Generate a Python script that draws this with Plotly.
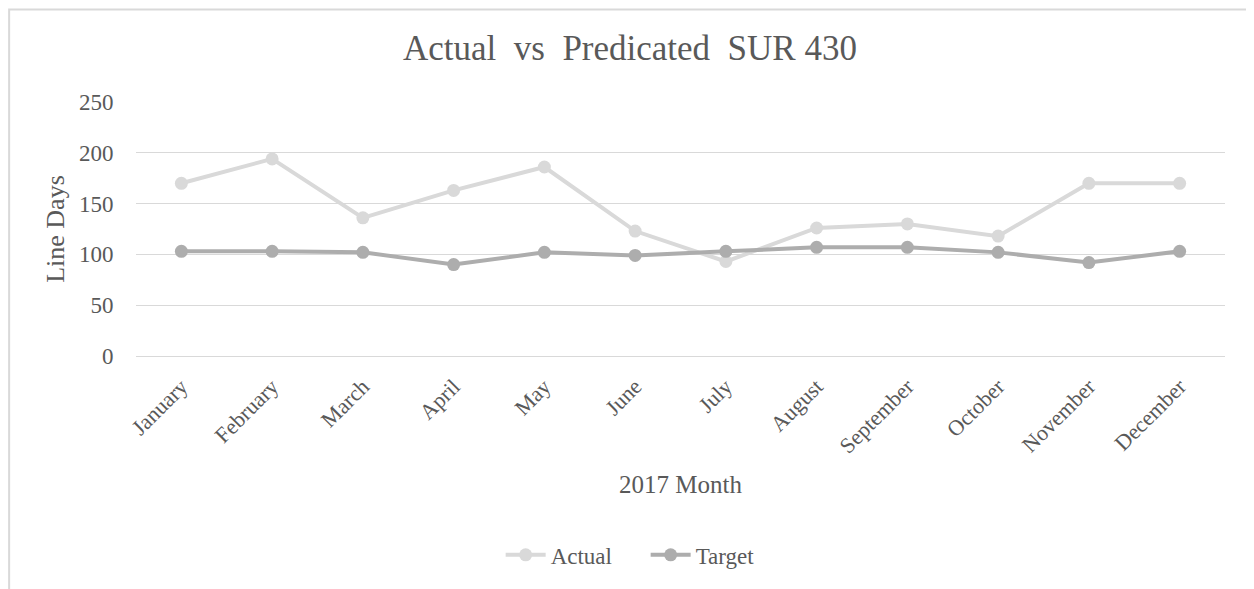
import plotly.graph_objects as go

months = ["January", "February", "March", "April", "May", "June",
          "July", "August", "September", "October", "November", "December"]
actual = [170, 194, 136, 163, 186, 123, 93, 126, 130, 118, 170, 170]
target = [103, 103, 102, 90, 102, 99, 103, 107, 107, 102, 92, 103]

FONT = "Liberation Serif, Times New Roman, serif"
TEXT = "#595959"
CLEAR = "rgba(0,0,0,0)"

fig = go.Figure()
fig.add_trace(go.Scatter(
    x=months, y=actual, name="Actual", mode="lines+markers",
    line=dict(color="#d9d9d9", width=4),
    marker=dict(color="#d9d9d9", size=13),
))
fig.add_trace(go.Scatter(
    x=months, y=target, name="Target", mode="lines+markers",
    line=dict(color="#adadad", width=4),
    marker=dict(color="#adadad", size=13),
))

# page body has an 8px margin, so the figure is offset by 8px
fig.update_layout(
    width=1254, height=589,
    margin=dict(l=128, r=37, t=94, b=241),
    paper_bgcolor="white", plot_bgcolor="white",
    font=dict(family=FONT, color=TEXT, size=21),
    title=dict(text="Actual\u00a0 vs\u00a0 Predicated\u00a0 SUR 430",
               x=0.4536, xanchor="center", xref="paper",
               y=0.932, yanchor="middle", font=dict(size=35, color=TEXT)),
    showlegend=True,
    legend=dict(orientation="h", x=0.468, xanchor="center", y=-0.783, yanchor="middle",
                font=dict(size=23, color=TEXT), itemwidth=40,
                entrywidth=90, entrywidthmode="pixels"),
    shapes=[dict(type="rect", xref="paper", yref="paper",
                 x0=-0.1165, x1=1.2, y0=-1.2, y1=1.364,
                 line=dict(color="#d9d9d9", width=2), layer="below")],
)
fig.update_xaxes(
    range=[-0.5, 11.5], tickangle=-45, showgrid=False, showline=False,
    ticks="outside", ticklen=8, tickcolor=CLEAR, tickfont=dict(size=22, color=TEXT),
    title=dict(text="2017 Month", font=dict(size=25, color=TEXT), standoff=18),
)
fig.update_yaxes(
    range=[0, 250], dtick=50, showgrid=True, gridcolor="#d9d9d9", gridwidth=1,
    zeroline=True, zerolinecolor="#d9d9d9", zerolinewidth=1, showline=False,
    ticks="outside", ticklen=17, tickcolor=CLEAR, tickfont=dict(size=23, color=TEXT),
    title=dict(text="Line Days", font=dict(size=26, color=TEXT), standoff=6),
)

fig.write_html("out.html")
